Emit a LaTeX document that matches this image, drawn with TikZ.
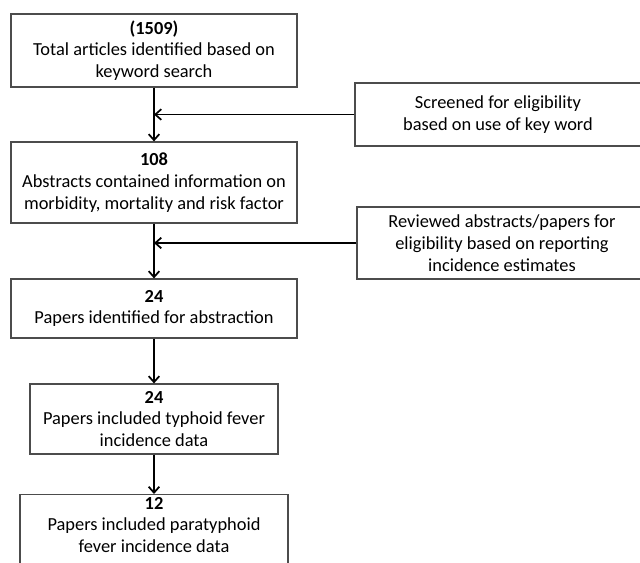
\documentclass[tikz,border=0pt]{standalone}
\usepackage{fontspec}
\setmainfont{Carlito}
\usetikzlibrary{arrows.meta}
\begin{document}
\begin{tikzpicture}[x=0.75pt,y=-0.75pt,
  box/.style={draw=black!70, line width=0.9pt, fill=white, inner sep=0pt, align=center,
    font=\fontsize{13.8}{16.3}\selectfont},
  txt/.style={inner sep=0pt, align=center, font=\fontsize{13.8}{16.3}\selectfont},
  arr/.style={line width=1.3pt, -{Straight Barb[length=4.5pt,width=8pt,line width=1.3pt]}}]
\useasboundingbox (0,0) rectangle (640,562);
\clip (0,0) rectangle (640,562);
\node[box, minimum width=214.5pt, minimum height=54.75pt] (b1) at (154,50.5)
  {\textbf{(1509)}\\Total articles identified based on\\keyword search};
\node[box, minimum width=214.5pt, minimum height=60.75pt] (b2) at (154,182.5)
  {\textbf{108}\\Abstracts contained information on\\morbidity, mortality and risk factor};
\node[box, minimum width=214.5pt, minimum height=44.25pt] (b3) at (154,308.5)
  {\textbf{24}\\Papers identified for abstraction};
\node[box, minimum width=186pt, minimum height=52.5pt] (b4) at (154,419)
  {\textbf{24}\\Papers included typhoid fever\\incidence data};
\node[box, minimum width=201pt, minimum height=66pt, anchor=north] (b5) at (154,494) {};
\node[txt] (t5) at (154,525) {\textbf{12}\\Papers included paratyphoid\\fever incidence data};
\node[box, minimum width=214.5pt, minimum height=47.25pt] (r1) at (498,114.5)
  {Screened for eligibility\\based on use of key word};
\node[box, minimum width=217.5pt, minimum height=54pt] (r2) at (502,243)
  {Reviewed abstracts/papers for\\eligibility based on reporting\\incidence estimates};
\draw[arr] (b1.south) -- (b2.north);
\draw[arr] (b2.south) -- (b3.north);
\draw[arr] (b3.south) -- (b4.north);
\draw[arr] (b4.south) -- (b5.north);
\draw[arr] (r1.west) -- (r1.west -| b1.south);
\draw[arr] (r2.west) -- (r2.west -| b2.south);
\end{tikzpicture}
\end{document}
